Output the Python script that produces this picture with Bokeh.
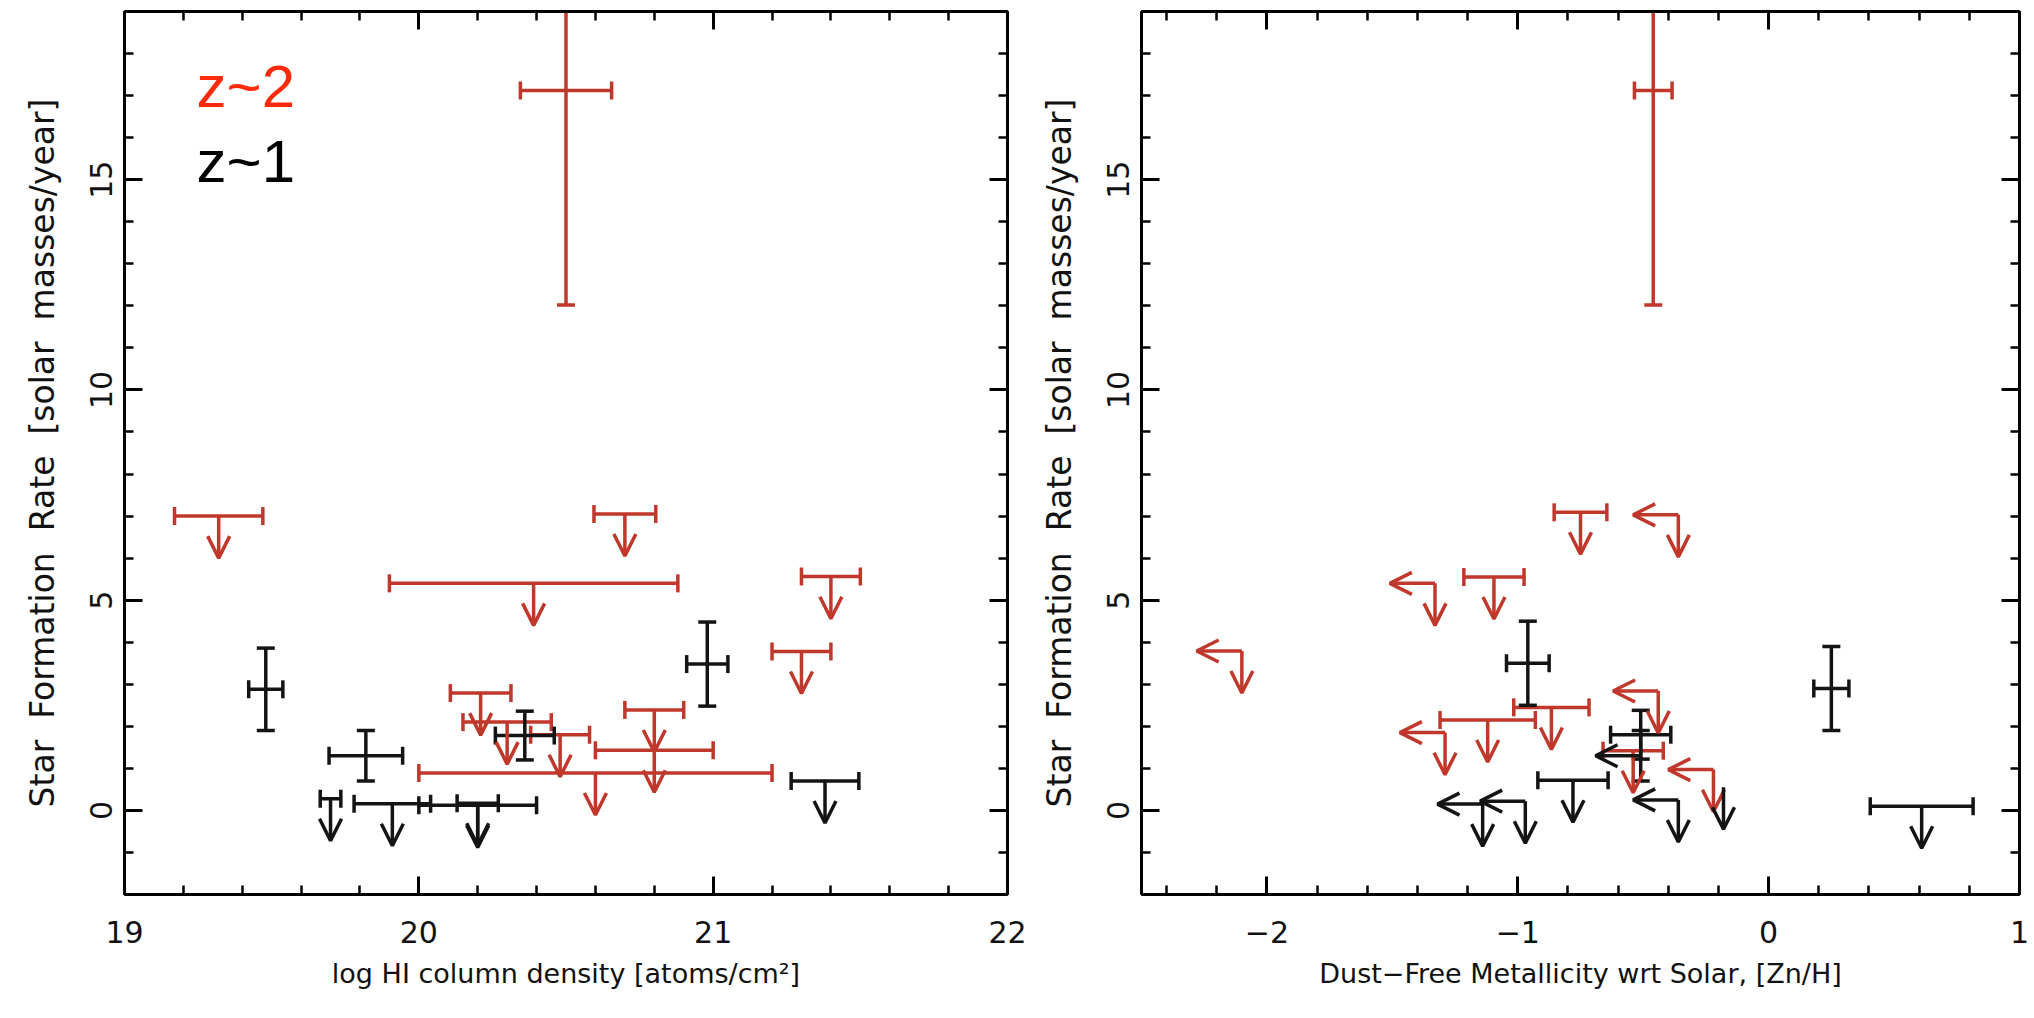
import math
from bokeh.plotting import figure
from bokeh.models import (ColumnDataSource, Arrow, OpenHead, Label, Range1d,
                          LinearAxis, SingleIntervalTicker, CustomJSTickFormatter)
from bokeh.layouts import row
from bokeh.embed import file_html
from bokeh.resources import INLINE

# ---------------- data ----------------
# Left panel: log HI column density vs SFR
HI_Z2_X = [20.50, 19.32, 20.70, 20.39, 21.40, 21.30, 20.21, 20.80, 20.30, 20.48, 20.80, 20.60]
HI_Z2_XERR = [0.155, 0.15, 0.105, 0.49, 0.10, 0.10, 0.103, 0.10, 0.15, 0.10, 0.20, 0.60]
HI_Z2_SFR = [17.12, 7.00, 7.05, 5.40, 5.56, 3.78, 2.79, 2.39, 2.10, 1.80, 1.43, 0.89]
HI_Z2_SFR_ERR = [5.10, 0, 0, 0, 0, 0, 0, 0, 0, 0, 0, 0]
HI_Z2_SFR_LIMIT = [False, True, True, True, True, True, True, True, True, True, True, True]

HI_Z1_X = [19.48, 19.82, 20.36, 20.98, 19.70, 19.91, 20.20, 20.20, 21.38]
HI_Z1_XERR = [0.058, 0.125, 0.10, 0.07, 0.035, 0.13, 0.07, 0.20, 0.115]
HI_Z1_SFR = [2.88, 1.30, 1.78, 3.48, 0.28, 0.16, 0.17, 0.12, 0.70]
HI_Z1_SFR_ERR = [0.98, 0.60, 0.58, 1.00, 0, 0, 0, 0, 0]
HI_Z1_SFR_LIMIT = [False, False, False, False, True, True, True, True, True]

# Right panel: dust-free metallicity [Zn/H] vs SFR
ZN_Z2_X = [-0.46, -0.75, -0.36, -1.33, -1.095, -2.10, -0.44, -0.866, -1.12, -1.29, -0.54, -0.22]
ZN_Z2_XERR = [0.075, 0.105, 0, 0, 0.12, 0, 0, 0.15, 0.19, 0, 0.12, 0]
ZN_Z2_X_LIMIT = [False, False, True, True, False, True, True, False, False, True, False, True]
ZN_Z2_SFR = [17.12, 7.09, 7.03, 5.40, 5.55, 3.79, 2.84, 2.45, 2.15, 1.85, 1.42, 0.97]
ZN_Z2_SFR_ERR = [5.10, 0, 0, 0, 0, 0, 0, 0, 0, 0, 0, 0]
ZN_Z2_SFR_LIMIT = [False, True, True, True, True, True, True, True, True, True, True, True]

ZN_Z1_X = [-0.96, 0.25, -0.51, -0.51, -0.78, -1.14, -0.97, -0.36, -0.18, 0.61]
ZN_Z1_XERR = [0.085, 0.07, 0.12, 0, 0.14, 0, 0, 0, 0, 0.205]
ZN_Z1_X_LIMIT = [False, False, False, True, False, True, True, True, False, False]
ZN_Z1_SFR = [3.50, 2.90, 1.80, 1.30, 0.72, 0.15, 0.22, 0.25, 0.55, 0.10]
ZN_Z1_SFR_ERR = [1.00, 1.00, 0.58, 0.60, 0, 0, 0, 0, 0, 0]
ZN_Z1_SFR_LIMIT = [False, False, False, False, True, True, True, True, True, True]

LEGEND_LABELS = ["z~2", "z~1"]
X_TITLES = ["log HI column density [atoms/cm\u00b2]",
            "Dust\u2212Free Metallicity wrt Solar, [Zn/H]"]
GAP = " \u00a0"
Y_TITLE = "Star" + GAP + "Formation" + GAP + "Rate" + GAP + "[solar" + GAP + "masses/year]"

# ---------------- style ----------------
RED = "#c0372b"
BLACK = "#141414"
LEGEND_RED = "#ff2a0a"
LW = 3.5
CAP = 18
HEAD = 22
ARROW_DY = 1.0     # length of SFR upper-limit arrows (data units)
ARROW_DX = 0.18    # length of [Zn/H] upper-limit arrows (data units)
FONT = "DejaVu Sans"
TICK_FS = "30px"
XTITLE_FS = "27px"
YTITLE_FS = "33px"


def draw_points(p, xs, xerr, xlim, sfr, sfr_err, sfr_lim, color):
    n = len(xs)
    hi = [i for i in range(n) if xerr[i] > 0]
    if hi:
        src = ColumnDataSource(dict(
            x0=[xs[i] - xerr[i] for i in hi], x1=[xs[i] + xerr[i] for i in hi],
            y=[sfr[i] for i in hi]))
        p.segment(x0="x0", y0="y", x1="x1", y1="y", source=src,
                  line_color=color, line_width=LW)
        p.scatter(x="x0", y="y", source=src, marker="dash", angle=math.pi / 2,
                  size=CAP, line_color=color, line_width=LW)
        p.scatter(x="x1", y="y", source=src, marker="dash", angle=math.pi / 2,
                  size=CAP, line_color=color, line_width=LW)
    vi = [i for i in range(n) if sfr_err[i] > 0]
    if vi:
        src = ColumnDataSource(dict(
            x=[xs[i] for i in vi], y0=[sfr[i] - sfr_err[i] for i in vi],
            y1=[sfr[i] + sfr_err[i] for i in vi]))
        p.segment(x0="x", y0="y0", x1="x", y1="y1", source=src,
                  line_color=color, line_width=LW)
        p.scatter(x="x", y="y0", source=src, marker="dash", size=CAP,
                  line_color=color, line_width=LW)
        p.scatter(x="x", y="y1", source=src, marker="dash", size=CAP,
                  line_color=color, line_width=LW)
    di = [i for i in range(n) if sfr_lim[i]]
    if di:
        src = ColumnDataSource(dict(
            x=[xs[i] for i in di], y0=[sfr[i] for i in di],
            y1=[sfr[i] - ARROW_DY for i in di]))
        p.add_layout(Arrow(x_start="x", y_start="y0", x_end="x", y_end="y1",
                           source=src, line_color=color, line_width=LW,
                           end=OpenHead(size=HEAD, line_color=color, line_width=LW)))
    li = [i for i in range(n) if xlim[i]]
    if li:
        src = ColumnDataSource(dict(
            x0=[xs[i] for i in li], x1=[xs[i] - ARROW_DX for i in li],
            y=[sfr[i] for i in li]))
        p.add_layout(Arrow(x_start="x0", y_start="y", x_end="x1", y_end="y",
                           source=src, line_color=color, line_width=LW,
                           end=OpenHead(size=HEAD, line_color=color, line_width=LW)))


def style_axis(ax, labelled, title_fs):
    ax.axis_line_width = 3
    ax.axis_line_color = "black"
    ax.major_tick_line_width = 3
    ax.minor_tick_line_width = 2.5
    ax.major_tick_line_color = "black"
    ax.minor_tick_line_color = "black"
    ax.major_tick_in = 18
    ax.major_tick_out = 0
    ax.minor_tick_in = 9
    ax.minor_tick_out = 0
    ax.major_label_text_font = FONT
    ax.major_label_text_font_size = TICK_FS
    ax.major_label_text_color = "#111111"
    ax.axis_label_text_font = FONT
    ax.axis_label_text_font_size = title_fs
    ax.axis_label_text_font_style = "normal"
    ax.axis_label_text_color = "#111111"
    if not labelled:
        ax.formatter = CustomJSTickFormatter(code="return ''")
        ax.major_label_standoff = 0


def make_panel(width, border_left, border_right, xr, xtitle, overrides=None):
    p = figure(width=width, height=1018, output_backend="svg", toolbar_location=None,
               x_range=Range1d(*xr), y_range=Range1d(-2, 19),
               min_border_left=border_left, min_border_right=border_right,
               min_border_top=11, min_border_bottom=124)
    p.grid.visible = False
    p.background_fill_color = "white"
    p.border_fill_color = "white"
    p.outline_line_color = "black"
    p.outline_line_width = 2

    p.xaxis[0].ticker = SingleIntervalTicker(interval=1, num_minor_ticks=5)
    p.yaxis[0].ticker = SingleIntervalTicker(interval=5, num_minor_ticks=5)
    p.xaxis[0].axis_label = xtitle
    p.yaxis[0].axis_label = Y_TITLE
    style_axis(p.xaxis[0], True, XTITLE_FS)
    style_axis(p.yaxis[0], True, YTITLE_FS)
    p.xaxis[0].major_label_standoff = 26
    p.xaxis[0].axis_label_standoff = 12
    p.yaxis[0].major_label_standoff = 12
    p.yaxis[0].axis_label_standoff = 26
    p.yaxis[0].major_label_orientation = "vertical"
    if overrides:
        p.xaxis[0].major_label_overrides = overrides

    top = LinearAxis(ticker=SingleIntervalTicker(interval=1, num_minor_ticks=5))
    right = LinearAxis(ticker=SingleIntervalTicker(interval=5, num_minor_ticks=5))
    style_axis(top, False, XTITLE_FS)
    style_axis(right, False, YTITLE_FS)
    p.add_layout(top, "above")
    p.add_layout(right, "right")
    return p


p1 = make_panel(1030, 124, 23, (19, 22), X_TITLES[0])
p2 = make_panel(1004, 111, 15, (-2.5, 1), X_TITLES[1],
                overrides={-2: "\u22122", -1: "\u22121"})

draw_points(p1, HI_Z2_X, HI_Z2_XERR, [False] * len(HI_Z2_X), HI_Z2_SFR,
            HI_Z2_SFR_ERR, HI_Z2_SFR_LIMIT, RED)
draw_points(p1, HI_Z1_X, HI_Z1_XERR, [False] * len(HI_Z1_X), HI_Z1_SFR,
            HI_Z1_SFR_ERR, HI_Z1_SFR_LIMIT, BLACK)
draw_points(p2, ZN_Z2_X, ZN_Z2_XERR, ZN_Z2_X_LIMIT, ZN_Z2_SFR,
            ZN_Z2_SFR_ERR, ZN_Z2_SFR_LIMIT, RED)
draw_points(p2, ZN_Z1_X, ZN_Z1_XERR, ZN_Z1_X_LIMIT, ZN_Z1_SFR,
            ZN_Z1_SFR_ERR, ZN_Z1_SFR_LIMIT, BLACK)

p1.add_layout(Label(x=19.245, y=16.43, text=LEGEND_LABELS[0], text_font="Liberation Sans",
                    text_font_size="60px", text_color=LEGEND_RED))
p1.add_layout(Label(x=19.245, y=14.63, text=LEGEND_LABELS[1], text_font="Liberation Sans",
                    text_font_size="60px", text_color="black"))

layout = row(p1, p2)
open("out.html", "w").write(file_html(layout, INLINE))
